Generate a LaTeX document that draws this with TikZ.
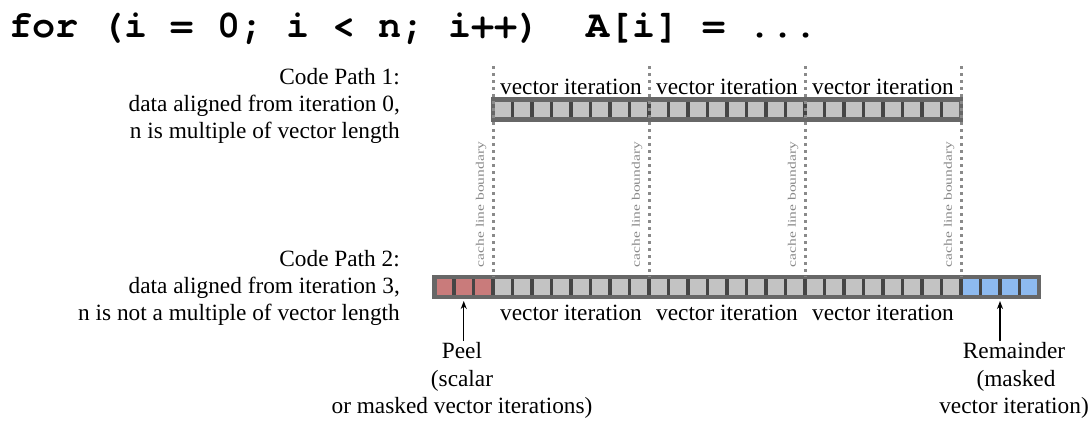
\documentclass[tikz,border=0pt]{standalone}
\usepackage{fontspec}
\setmainfont{Liberation Serif}
\newfontfamily\codefont{TeX Gyre Cursor}
\usetikzlibrary{arrows.meta}

\definecolor{cellfill}{HTML}{C3C3C3}
\definecolor{celledge}{HTML}{454545}
\definecolor{rowedge}{HTML}{676767}
\definecolor{peelfill}{HTML}{C97B7B}
\definecolor{remfill}{HTML}{8DBAF0}
\definecolor{boundary}{HTML}{8A8A8A}
\definecolor{boundtext}{HTML}{888888}

\tikzset{
  cell/.style={draw=celledge, line width=3.5pt, fill=cellfill,
    minimum width=19.5pt, minimum height=20pt, inner sep=0pt, outer sep=0pt},
  rowframe/.style={draw=rowedge, line width=4.5pt},
  cacheline/.style={draw=boundary, line width=3pt, dash pattern=on 3pt off 4pt},
  lbl/.style={font=\fontsize{23.3}{27}\selectfont, inner sep=0pt},
  cachelbl/.style={font=\fontsize{11.5}{12}\selectfont, text=boundtext, inner sep=0pt, rotate=90},
  pointer/.style={-{Stealth[length=8pt,width=6pt]}, line width=1.4pt, shorten >=4pt}
}

\begin{document}
\begin{tikzpicture}[x=1pt,y=-1pt]
\useasboundingbox (0,0) rectangle (1091,421);

% loop header
\node[anchor=base west, inner sep=0pt, font=\codefont\bfseries\fontsize{38.5}{40}\selectfont]
  (code) at (9,37) {for (i = 0; i < n; i++)\ \ A[i] = ...};

% descriptions of the two code paths
\node[lbl, anchor=base east] (p1a) at (400,84) {Code Path 1:};
\node[lbl, anchor=base east] (p1b) at (400,111) {data aligned from iteration 0,};
\node[lbl, anchor=base east] (p1c) at (400,138) {n is multiple of vector length};
\node[lbl, anchor=base east] (p2a) at (400,266) {Code Path 2:};
\node[lbl, anchor=base east] (p2b) at (400,293) {data aligned from iteration 3,};
\node[lbl, anchor=base east] (p2c) at (400,320) {n is not a multiple of vector length};

% path 1: three full vector iterations
\foreach \i in {0,...,23}
  \node[cell] (t\i) at ({493+19.5*\i+9.75},109.5) {};
\draw[rowframe] (t0.north west) rectangle (t23.south east);

% path 2: peel, three vector iterations, remainder
\foreach \i in {0,...,30}{
  \ifnum\i<3
    \node[cell, fill=peelfill] (b\i) at ({434.5+19.5*\i+9.75},287) {};
  \else\ifnum\i>26
    \node[cell, fill=remfill] (b\i) at ({434.5+19.5*\i+9.75},287) {};
  \else
    \node[cell] (b\i) at ({434.5+19.5*\i+9.75},287) {};
  \fi\fi
}
\draw[rowframe] (b0.north west) rectangle (b30.south east);

% cache line boundaries
\foreach \k/\j in {0/3,1/11,2/19,3/27}{
  \coordinate (cl\k) at ([yshift=211pt]b\j.north west);
  \draw[cacheline] (cl\k) -- (b\j.north west);
  \node[cachelbl] (cl\k lbl) at ([xshift=-12pt, yshift=72.5pt]b\j.north west)
    {\scalebox{1.35}[1]{cache line boundary}};
}

% vector iteration labels
\foreach \k/\j in {0/0,1/8,2/16}{
  \node[lbl, anchor=base] (tv\k) at ([xshift=78pt,yshift=5.5pt]t\j.north west) {vector iteration};
}
\foreach \k/\j in {0/3,1/11,2/19}{
  \node[lbl, anchor=base] (bv\k) at ([xshift=78pt,yshift=-23pt]b\j.south west) {vector iteration};
}

% peel and remainder pointers
\coordinate (peeltail) at ([yshift=-44pt]b1.south);
\draw[pointer] (peeltail) -- (b1.south);
\node[lbl, anchor=base] (peel1) at (462,358) {Peel};
\node[lbl, anchor=base] (peel2) at (462,386) {(scalar};
\node[lbl, anchor=base] (peel3) at (462,413) {or masked vector iterations)};

\coordinate (remtail) at ([yshift=-44pt]b28.south east);
\draw[pointer] (remtail) -- (b28.south east);
\node[lbl, anchor=base] (rem1) at (1014,358) {Remainder};
\node[lbl, anchor=base] (rem2) at (1016,386) {(masked};
\node[lbl, anchor=base] (rem3) at (1014,413) {vector iteration)};
\end{tikzpicture}
\end{document}
